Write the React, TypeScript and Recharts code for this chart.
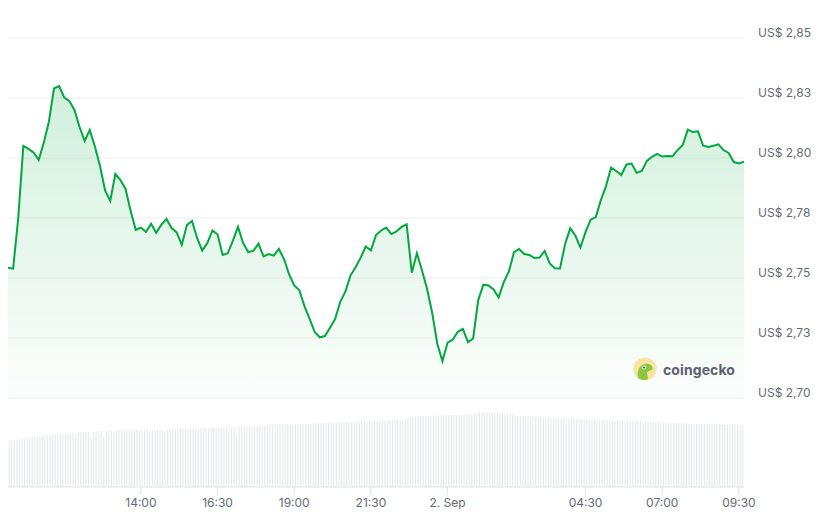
import React from 'react';
import { ComposedChart, Area, Bar, XAxis, YAxis, CartesianGrid } from 'recharts';

// 24h window: 1 Sep 09:40 -> 2 Sep 09:40, in minutes since 1 Sep 00:00
const START = 580;

// price (USD), one point every 10 minutes
const prices = [
  2.7543, 2.7539, 2.7750, 2.8050, 2.8038, 2.8023, 2.7992, 2.8064, 2.8151, 2.8290,
  2.8300, 2.8252, 2.8238, 2.8200, 2.8129, 2.8071, 2.8117, 2.8048, 2.7967, 2.7865,
  2.7821, 2.7933, 2.7908, 2.7871, 2.7779, 2.7701, 2.7710, 2.7692, 2.7726, 2.7688,
  2.7722, 2.7746, 2.7708, 2.7690, 2.7638, 2.7721, 2.7738, 2.7667, 2.7614, 2.7646,
  2.7698, 2.7682, 2.7596, 2.7603, 2.7656, 2.7713, 2.7646, 2.7608, 2.7613, 2.7643,
  2.7590, 2.7600, 2.7593, 2.7621, 2.7579, 2.7515, 2.7469, 2.7449, 2.7383, 2.7331,
  2.7275, 2.7253, 2.7258, 2.7293, 2.7329, 2.7401, 2.7443, 2.7510, 2.7545, 2.7585,
  2.7631, 2.7615, 2.7679, 2.7698, 2.7710, 2.7683, 2.7694, 2.7713, 2.7724, 2.7522,
  2.7603, 2.7531, 2.7454, 2.7354, 2.7225, 2.7154, 2.7231, 2.7243, 2.7276, 2.7288,
  2.7233, 2.7248, 2.7408, 2.7472, 2.7469, 2.7452, 2.7419, 2.7483, 2.7527, 2.7608,
  2.7621, 2.7600, 2.7596, 2.7583, 2.7585, 2.7613, 2.7561, 2.7541, 2.7540, 2.7642,
  2.7707, 2.7677, 2.7627, 2.7692, 2.7743, 2.7754, 2.7825, 2.7883, 2.7960, 2.7946,
  2.7929, 2.7973, 2.7977, 2.7938, 2.7946, 2.7988, 2.8005, 2.8017, 2.8006, 2.8008,
  2.8007, 2.8033, 2.8054, 2.8118, 2.8108, 2.8111, 2.8052, 2.8046, 2.8051, 2.8057,
  2.8033, 2.8021, 2.7983, 2.7977, 2.7985,
];

// 24h volume (millions USD), one bar every 5 minutes, one row per hour
const volumes = [
  36.3, 36.8, 37.3, 37.8, 38.2, 38.6, 39.0, 39.3, 39.6, 39.9, 40.2, 40.5,
  40.7, 41.0, 41.2, 41.5, 41.7, 42.0, 42.2, 42.3, 42.5, 42.7, 42.9, 43.1,
  43.2, 43.4, 40.1, 43.6, 43.8, 44.0, 44.1, 44.2, 39.3, 44.4, 44.6, 44.7,
  44.8, 40.3, 44.9, 45.0, 45.1, 45.2, 45.3, 45.3, 45.4, 45.4, 45.5, 45.5,
  45.5, 45.6, 45.6, 45.5, 45.6, 45.7, 45.7, 45.6, 45.7, 45.8, 45.7, 45.8,
  45.8, 45.9, 46.0, 46.1, 46.2, 46.3, 46.4, 46.5, 46.6, 46.7, 46.8, 46.9,
  47.0, 47.1, 47.2, 47.2, 47.3, 47.4, 47.5, 47.5, 47.6, 47.7, 47.7, 47.8,
  47.9, 48.0, 48.0, 48.1, 48.2, 40.9, 48.3, 48.4, 48.5, 48.6, 48.7, 48.8,
  48.9, 49.0, 49.1, 49.2, 49.3, 49.4, 49.5, 49.6, 49.7, 49.8, 49.9, 50.0,
  50.1, 50.2, 50.3, 50.4, 50.4, 50.5, 50.6, 50.6, 50.7, 50.8, 50.9, 51.0,
  51.1, 51.2, 51.3, 51.3, 51.4, 51.5, 51.6, 51.6, 51.7, 51.8, 51.9, 52.0,
  52.0, 52.1, 52.1, 52.2, 52.2, 52.3, 52.4, 52.4, 52.5, 52.6, 52.7, 52.8,
  52.9, 53.0, 53.1, 53.2, 53.3, 53.4, 53.5, 53.6, 53.7, 54.0, 54.4, 54.8,
  55.2, 55.6, 56.0, 56.4, 56.7, 56.9, 57.0, 57.1, 57.2, 57.3, 57.3, 57.4,
  57.5, 57.5, 57.6, 57.6, 57.7, 57.7, 57.8, 57.8, 57.9, 58.0, 58.1, 58.2,
  58.3, 58.5, 58.7, 58.9, 59.1, 59.3, 59.3, 59.3, 59.2, 59.4, 59.3, 59.2,
  59.3, 59.2, 59.0, 58.8, 58.5, 58.0, 57.5, 57.0, 56.8, 56.6, 56.4, 56.3,
  56.2, 56.1, 56.0, 55.9, 55.8, 55.7, 55.6, 55.5, 55.4, 55.3, 55.2, 55.1,
  55.0, 55.0, 54.9, 54.9, 54.8, 54.7, 54.6, 54.5, 54.5, 54.4, 54.3, 54.2,
  54.1, 54.0, 53.9, 53.8, 53.7, 53.6, 53.5, 53.4, 53.3, 53.2, 53.0, 52.9,
  52.9, 52.8, 52.8, 52.8, 52.7, 52.7, 52.7, 52.6, 52.6, 52.5, 52.4, 52.3,
  52.3, 52.2, 52.1, 52.0, 51.9, 51.8, 51.6, 51.5, 51.4, 51.3, 51.2, 51.1,
  51.0, 50.9, 50.8, 50.8, 50.7, 50.6, 50.5, 50.5, 50.4, 50.4, 50.3, 50.3,
  50.3, 50.2, 50.2, 50.1, 50.1, 50.0, 50.0, 49.9, 49.9, 49.8, 49.8, 49.7,
];

const priceTicks = [2.7, 2.725, 2.75, 2.775, 2.8, 2.825, 2.85];
const timeTicks = [840, 990, 1140, 1290, 1440, 1710, 1860, 2010];
const timeLabels = ['14:00', '16:30', '19:00', '21:30', '2. Sep', '04:30', '07:00', '09:30'];

const rowMap = new Map<number, any>();
prices.forEach((p, i) => {
  const t = START + i * 10;
  rowMap.set(t, { ...rowMap.get(t), t, price: p });
});
volumes.forEach((v, i) => {
  const t = START + 2.5 + i * 5;
  rowMap.set(t, { ...rowMap.get(t), t, volume: v });
});
const data = [...rowMap.values()].sort((a, b) => a.t - b.t);

const GREEN = '#00a83e';
const LABEL = '#646b76';

const fmtPrice = (v: number) => 'US$ ' + (v + 1e-9).toFixed(2).replace('.', ',');

const PriceTick = ({ x, y, payload }: any) => (
  <text x={x} y={y - 5.5} dy="0.355em" fill={LABEL} fontSize={12} textAnchor="start">
    {fmtPrice(payload.value)}
  </text>
);

function GeckoMark() {
  return (
    <div style={{ position: 'absolute', left: 633, top: 357, display: 'flex', alignItems: 'center' }}>
      <svg width={24} height={24} viewBox="0 0 24 24">
        <circle cx={12} cy={12} r={11.5} fill="#f8e4a4" />
        <path d="M5 21 C4 14 6 8 12 7 C17 6 20 9 19.5 12.5 C17.5 14 15 13.5 14 15.5 L15 22.5 C11 23.5 7.5 23 5 21 Z" fill="#8dc63f" />
        <circle cx={11} cy={10.5} r={1.9} fill="#fff" />
        <circle cx={11} cy={10.5} r={0.9} fill="#333" />
      </svg>
      <span style={{ marginLeft: 6, fontSize: 14, fontWeight: 700, color: '#5e6072', letterSpacing: 0.1 }}>coingecko</span>
    </div>
  );
}

export default function App() {
  return (
    <div style={{ position: 'absolute', left: 0, top: 0, width: 825, height: 516, background: '#fff', fontFamily: 'Inter, sans-serif' }}>
      <ComposedChart width={825} height={516} data={data} margin={{ top: 38, right: 11, bottom: 0, left: 8 }}>
        <defs>
          <linearGradient id="priceFill" x1="0" y1="0" x2="0" y2="1">
            <stop offset="0%" stopColor={GREEN} stopOpacity={0.3} />
            <stop offset="100%" stopColor={GREEN} stopOpacity={0.02} />
          </linearGradient>
        </defs>
        <CartesianGrid vertical={false} stroke="#eeeeee" />
        <XAxis
          dataKey="t"
          type="number"
          domain={[START, START + 1440]}
          allowDataOverflow
          ticks={timeTicks}
          tickFormatter={(v: number) => timeLabels[timeTicks.indexOf(v)]}
          axisLine={{ stroke: '#e6e9ed' }}
          tickLine={{ stroke: '#e1e4e8' }}
          tickSize={8}
          tickMargin={3}
          height={29}
          tick={{ fill: LABEL, fontSize: 12 }}
        />
        <YAxis
          orientation="right"
          type="number"
          domain={[2.662917, 2.85]}
          allowDataOverflow
          ticks={priceTicks}
          axisLine={false}
          tickLine={false}
          tickSize={0}
          tickMargin={14}
          width={70}
          tick={<PriceTick />}
        />
        <YAxis yAxisId="vol" hide domain={[0, 360]} allowDataOverflow />
        <Bar yAxisId="vol" dataKey="volume" fill="#e7eaee" barSize={2} isAnimationActive={false} />
        <Area
          type="linear"
          dataKey="price"
          stroke={GREEN}
          strokeWidth={2}
          fill="url(#priceFill)"
          baseValue={2.7}
          connectNulls
          dot={false}
          activeDot={false}
          isAnimationActive={false}
        />
      </ComposedChart>
      <GeckoMark />
    </div>
  );
}
